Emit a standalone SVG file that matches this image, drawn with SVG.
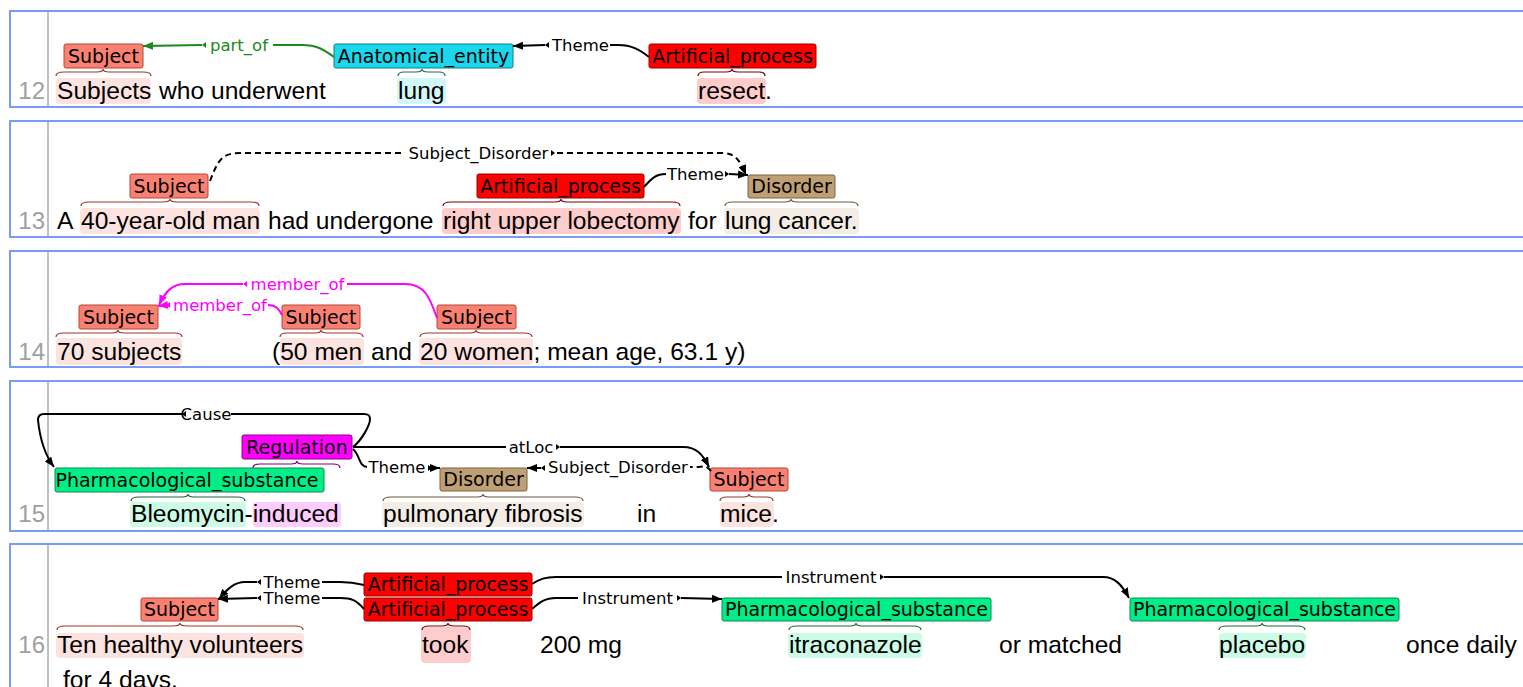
<svg xmlns="http://www.w3.org/2000/svg" width="1523" height="687" viewBox="0 0 1523 687">
<style>
.row{fill:none;stroke:#7b9cf5;stroke-width:2}
.gut{stroke:#c0c0c0;stroke-width:2}
.num{font-family:"Liberation Sans",Arial,sans-serif;font-size:24px;fill:#a0a0a0;text-anchor:end}
.w{font-family:"Liberation Sans",Arial,sans-serif;font-size:24.6px;fill:#000}
.lb{font-family:"DejaVu Sans",sans-serif;font-size:19px;fill:#000;text-anchor:middle}
.al{font-family:"DejaVu Sans",sans-serif;font-size:16.5px;text-anchor:middle}
.br{fill:none;stroke-width:1.2}
.arc{fill:none;stroke-width:2}
.dash{stroke-dasharray:6,4}
.k{stroke:#000}
.g{stroke:#1a8a1a}
.m{stroke:#ff00ff}
.subj{fill:#fa8072;stroke:#b0483c}
.ap{fill:#ff0000;stroke:#9a0000}
.ana{fill:#1ad7ec;stroke:#0d7f8c}
.dis{fill:#bfa074;stroke:#7a6240}
.reg{fill:#ff00ff;stroke:#8c008c}
.ph{fill:#00ee88;stroke:#11894f}
.hsubj{fill:#fde3e0}
.hap{fill:#ffcccc}
.hana{fill:#d1f7fa}
.hdis{fill:#f3ede6}
.hph{fill:#ccfbe6}
.hreg{fill:#ffccff}
</style>
<defs>
<marker id="ak" viewBox="0 0 10 8" refX="10" refY="4" markerWidth="10" markerHeight="8" markerUnits="userSpaceOnUse" orient="auto"><path d="M0,0 L10,4 L0,8 z" fill="#000"/></marker>
<marker id="ag" viewBox="0 0 10 8" refX="10" refY="4" markerWidth="10" markerHeight="8" markerUnits="userSpaceOnUse" orient="auto"><path d="M0,0 L10,4 L0,8 z" fill="#1a8a1a"/></marker>
<marker id="am" viewBox="0 0 10 8" refX="10" refY="4" markerWidth="10" markerHeight="8" markerUnits="userSpaceOnUse" orient="auto"><path d="M0,0 L10,4 L0,8 z" fill="#ff00ff"/></marker>
</defs>

<g id="rows">
<path class="row" d="M1523,11 L10,11 L10,107 L1523,107"/>
<path class="row" d="M1523,121 L10,121 L10,237 L1523,237"/>
<path class="row" d="M1523,251 L10,251 L10,367 L1523,367"/>
<path class="row" d="M1523,381 L10,381 L10,531 L1523,531"/>
<path class="row" d="M1523,544 L10,544 L10,690"/>
<line class="gut" x1="48" y1="12" x2="48" y2="106"/>
<line class="gut" x1="48" y1="122" x2="48" y2="236"/>
<line class="gut" x1="48" y1="252" x2="48" y2="366"/>
<line class="gut" x1="48" y1="382" x2="48" y2="530"/>
<line class="gut" x1="48" y1="545" x2="48" y2="690"/>
<text class="num" x="45" y="99">12</text>
<text class="num" x="45" y="229">13</text>
<text class="num" x="45" y="360">14</text>
<text class="num" x="45" y="522">15</text>
<text class="num" x="45" y="653">16</text>
</g>

<g id="highlights">
<rect class="hsubj" x="56" y="78" width="95" height="26" rx="4"/>
<rect class="hana" x="397" y="78" width="49" height="26" rx="4"/>
<rect class="hap" x="697" y="78" width="69" height="26" rx="4"/>
<rect class="hsubj" x="80" y="208" width="180" height="26" rx="4"/>
<rect class="hap" x="442" y="208" width="239" height="26" rx="4"/>
<rect class="hdis" x="724" y="208" width="135" height="26" rx="4"/>
<rect class="hsubj" x="56" y="338" width="126" height="27" rx="4"/>
<rect class="hsubj" x="280" y="338" width="84" height="27" rx="4"/>
<rect class="hsubj" x="419" y="338" width="114" height="27" rx="4"/>
<rect class="hph" x="130" y="502" width="116" height="25" rx="4"/>
<rect class="hreg" x="253" y="502" width="88" height="25" rx="4"/>
<rect class="hdis" x="382" y="502" width="202" height="25" rx="4"/>
<rect class="hsubj" x="720" y="502" width="54" height="25" rx="4"/>
<rect class="hsubj" x="56" y="633" width="248" height="25" rx="4"/>
<rect class="hap" x="421" y="627" width="50" height="36" rx="4"/>
<rect class="hph" x="788" y="633" width="134" height="25" rx="4"/>
<rect class="hph" x="1219" y="633" width="87" height="25" rx="4"/>
</g>

<g id="sentences">
<text class="w" x="57" y="99">Subjects</text>
<text class="w" x="159" y="99">who underwent</text>
<text class="w" x="398" y="99">lung</text>
<text class="w" x="698" y="99">resect.</text>
<text class="w" x="57" y="229">A</text>
<text class="w" x="81" y="229">40-year-old man</text>
<text class="w" x="268" y="229">had undergone</text>
<text class="w" x="443" y="229">right upper lobectomy</text>
<text class="w" x="688" y="229">for</text>
<text class="w" x="725" y="229">lung cancer.</text>
<text class="w" x="57" y="360">70 subjects</text>
<text class="w" x="272" y="360">(50 men</text>
<text class="w" x="371" y="360">and</text>
<text class="w" x="420" y="360">20 women; mean age, 63.1 y)</text>
<text class="w" x="131" y="522">Bleomycin-induced</text>
<text class="w" x="383" y="522">pulmonary fibrosis</text>
<text class="w" x="637" y="522">in</text>
<text class="w" x="720" y="522">mice.</text>
<text class="w" x="57" y="653">Ten healthy volunteers</text>
<text class="w" x="422" y="653">took</text>
<text class="w" x="540" y="653">200 mg</text>
<text class="w" x="789" y="653">itraconazole</text>
<text class="w" x="999" y="653">or matched</text>
<text class="w" x="1219" y="653">placebo</text>
<text class="w" x="1406" y="653">once daily</text>
<text class="w" x="63" y="688">for 4 days.</text>
</g>

<g id="braces">
<path class="br" stroke="#a0342a" d="M56,76 Q56,72 64,72 L97,72 Q103,72 103,69 Q103,72 109,72 L143,72 Q151,72 151,76"/>
<path class="br" stroke="#1a6a75" d="M398,76 Q398,72 404,72 L416,72 Q422,72 422,69 Q422,72 428,72 L439,72 Q445,72 445,76"/>
<path class="br" stroke="#800000" d="M698,76 Q698,72 704,72 L726,72 Q732,72 732,69 Q732,72 738,72 L759,72 Q765,72 765,76"/>
<path class="br" stroke="#a0342a" d="M81,206 Q81,202 89,202 L163,202 Q170,202 170,199 Q170,202 177,202 L251,202 Q259,202 259,206"/>
<path class="br" stroke="#800000" d="M443,206 Q443,202 451,202 L555,202 Q561,202 561,199 Q561,202 567,202 L672,202 Q680,202 680,206"/>
<path class="br" stroke="#6e5a3c" d="M725,206 Q725,202 733,202 L785,202 Q791,202 791,199 Q791,202 797,202 L850,202 Q858,202 858,206"/>
<path class="br" stroke="#a0342a" d="M56,337 Q56,333 64,333 L112,333 Q118,333 118,330 Q118,333 124,333 L174,333 Q182,333 182,337"/>
<path class="br" stroke="#a0342a" d="M280,337 Q280,333 287,333 L315,333 Q321,333 321,330 Q321,333 327,333 L356,333 Q363,333 363,337"/>
<path class="br" stroke="#a0342a" d="M420,337 Q420,333 428,333 L470,333 Q476,333 476,330 Q476,333 482,333 L524,333 Q532,333 532,337"/>
<path class="br" stroke="#800080" d="M253,468 Q253,464 260,464 L291,464 Q297,464 297,461 Q297,464 303,464 L333,464 Q340,464 340,468"/>
<path class="br" stroke="#1a6a45" d="M131,501 Q131,497 139,497 L182,497 Q188,497 188,494 Q188,497 194,497 L237,497 Q245,497 245,501"/>
<path class="br" stroke="#6e5a3c" d="M383,501 Q383,497 391,497 L477,497 Q483,497 483,494 Q483,497 489,497 L575,497 Q583,497 583,501"/>
<path class="br" stroke="#a0342a" d="M720,501 Q720,497 727,497 L743,497 Q749,497 749,494 Q749,497 755,497 L766,497 Q773,497 773,501"/>
<path class="br" stroke="#a0342a" d="M57,630 Q57,626 65,626 L173,626 Q180,626 180,623 Q180,626 187,626 L295,626 Q303,626 303,630"/>
<path class="br" stroke="#800000" d="M422,630 Q422,626 429,626 L442,626 Q448,626 448,623 Q448,626 454,626 L463,626 Q470,626 470,630"/>
<path class="br" stroke="#1a6a45" d="M789,630 Q789,626 797,626 L850,626 Q856,626 856,623 Q856,626 862,626 L913,626 Q921,626 921,630"/>
<path class="br" stroke="#1a6a45" d="M1219,630 Q1219,626 1227,626 L1256,626 Q1262,626 1262,623 Q1262,626 1268,626 L1297,626 Q1305,626 1305,630"/>
</g>

<g id="n12-subject"><rect class="subj" x="64" y="44" width="79" height="24" rx="2"/><text class="lb" x="103.5" y="63">Subject</text></g>
<g id="n12-anatomical"><rect class="ana" x="334" y="44" width="179" height="24" rx="2"/><text class="lb" x="423.5" y="63">Anatomical_entity</text></g>
<g id="n12-artproc"><rect class="ap" x="649" y="44" width="167" height="24" rx="2"/><text class="lb" x="732.5" y="63">Artificial_process</text></g>

<g id="n13-subject"><rect class="subj" x="130" y="174" width="78" height="24" rx="2"/><text class="lb" x="169" y="193">Subject</text></g>
<g id="n13-artproc"><rect class="ap" x="477" y="174" width="167" height="24" rx="2"/><text class="lb" x="560.5" y="193">Artificial_process</text></g>
<g id="n13-disorder"><rect class="dis" x="748" y="175" width="87" height="23" rx="2"/><text class="lb" x="791.5" y="193">Disorder</text></g>

<g id="n14-subject1"><rect class="subj" x="79" y="305" width="79" height="24" rx="2"/><text class="lb" x="118.5" y="324">Subject</text></g>
<g id="n14-subject2"><rect class="subj" x="282" y="305" width="78" height="24" rx="2"/><text class="lb" x="321" y="324">Subject</text></g>
<g id="n14-subject3"><rect class="subj" x="437" y="305" width="79" height="24" rx="2"/><text class="lb" x="476.5" y="324">Subject</text></g>

<g id="n15-regulation"><rect class="reg" x="242" y="435" width="110" height="24" rx="2"/><text class="lb" x="297" y="454">Regulation</text></g>
<g id="n15-pharma"><rect class="ph" x="55" y="468" width="269" height="24" rx="2"/><text class="lb" x="187" y="487">Pharmacological_substance</text></g>
<g id="n15-disorder"><rect class="dis" x="440" y="468" width="87" height="23" rx="2"/><text class="lb" x="483.5" y="486">Disorder</text></g>
<g id="n15-subject"><rect class="subj" x="710" y="468" width="78" height="23" rx="2"/><text class="lb" x="749" y="486">Subject</text></g>

<g id="n16-subject"><rect class="subj" x="141" y="598" width="77" height="23" rx="2"/><text class="lb" x="179.5" y="616">Subject</text></g>
<g id="n16-artproc1"><rect class="ap" x="364" y="573" width="168" height="23" rx="2"/><text class="lb" x="448" y="591">Artificial_process</text></g>
<g id="n16-artproc2"><rect class="ap" x="364" y="598" width="168" height="23" rx="2"/><text class="lb" x="448" y="616">Artificial_process</text></g>
<g id="n16-pharma1"><rect class="ph" x="722" y="598" width="269" height="23" rx="2"/><text class="lb" x="856.5" y="616">Pharmacological_substance</text></g>
<g id="n16-pharma2"><rect class="ph" x="1130" y="598" width="269" height="23" rx="2"/><text class="lb" x="1264.5" y="616">Pharmacological_substance</text></g>

<g id="connectors">
<!-- row 12 -->
<path class="arc g" d="M202,45 L143,46" marker-end="url(#ag)"/>
<polygon points="202,45 206,42 206,48" fill="#1a8a1a"/>
<text class="al" x="239" y="50.5" fill="#1a8a1a">part_of</text>
<path class="arc g" d="M273,45 L302,45 C318,45 324,50 334,57"/>
<path class="arc k" d="M545,45 L513,46" marker-end="url(#ak)"/>
<polygon points="545,45 549,42 549,48" fill="#000"/>
<text class="al" x="580.5" y="50.5" fill="#000">Theme</text>
<path class="arc k" d="M610,45 L618,45 C632,45 640,50 649,57"/>
<!-- row 13 -->
<path class="arc k dash" d="M210,181 C218,160 222,153 240,153 L405,153"/>
<text class="al" x="478.5" y="158.5" fill="#000">Subject_Disorder</text>
<polygon points="555,153 551,150 551,156" fill="#000"/>
<path class="arc k dash" d="M557,153 L722,153 C735,153 740,160 746,175" marker-end="url(#ak)"/>
<path class="arc k" d="M644,187 C652,178 656,174 666,174"/>
<text class="al" x="695.5" y="179.5" fill="#000">Theme</text>
<polygon points="729,174 725,171 725,177" fill="#000"/>
<path class="arc k" d="M729,174 L748,175" marker-end="url(#ak)"/>
<!-- row 14 -->
<path class="arc m" d="M437,318 C430,298 425,284 405,284 L347,284"/>
<text class="al" x="297.5" y="289.5" fill="#ff00ff">member_of</text>
<polygon points="243,284 247,281 247,287" fill="#ff00ff"/>
<path class="arc m" d="M243,284 L185,284 C172,284 165,292 159,305" marker-end="url(#am)"/>
<path class="arc m" d="M268,305 C276,305 279,309 282,315"/>
<text class="al" x="220" y="310.5" fill="#ff00ff">member_of</text>
<polygon points="166,305 170,302 170,308" fill="#ff00ff"/>
<path class="arc m" d="M167,305 L158,306" marker-end="url(#am)"/>
<!-- row 15 -->
<path class="arc k" d="M353,447 C362,440 370,425 370,419 C370,415 368,414 364,414 L231,414"/>
<text class="al" x="206" y="419.5" fill="#000">Cause</text>
<polygon points="182,414 186,411 186,417" fill="#000"/>
<path class="arc k" d="M182,414 L44,414 C39,414 38,417 38,420 C40,440 45,455 54,467" marker-end="url(#ak)"/>
<path class="arc k" d="M353,447 L506,447"/>
<text class="al" x="531" y="452.5" fill="#000">atLoc</text>
<polygon points="560,447 556,444 556,450" fill="#000"/>
<path class="arc k" d="M560,447 L683,447 C697,447 703,455 709,467" marker-end="url(#ak)"/>
<path class="arc k" d="M353,449 C360,455 359,467 367,467"/>
<text class="al" x="397" y="473" fill="#000">Theme</text>
<polygon points="432,468 428,465 428,471" fill="#000"/>
<path class="arc k" d="M431,468 L440,468" marker-end="url(#ak)"/>
<path class="arc k dash" d="M711,471 C706,464 702,467 697,467 L690,467"/>
<text class="al" x="618" y="472.5" fill="#000">Subject_Disorder</text>
<polygon points="541,468 545,465 545,471" fill="#000"/>
<path class="arc k" d="M541,468 L527,468" marker-end="url(#ak)"/>
<!-- row 16 -->
<path class="arc k" d="M364,585 C356,583 352,582 340,582 L322,582"/>
<text class="al" x="292" y="587.5" fill="#000">Theme</text>
<polygon points="257,582 261,579 261,585" fill="#000"/>
<path class="arc k" d="M257,582 L245,582 C235,582 228,588 219,599" marker-end="url(#ak)"/>
<path class="arc k" d="M364,609 C356,600 352,598 340,598 L322,598"/>
<text class="al" x="292" y="603.5" fill="#000">Theme</text>
<polygon points="257,598 261,595 261,601" fill="#000"/>
<path class="arc k" d="M257,598 L218,599" marker-end="url(#ak)"/>
<path class="arc k" d="M532,584 C540,579 545,577 556,577 L782,577"/>
<text class="al" x="831" y="582.5" fill="#000">Instrument</text>
<polygon points="884,577 880,574 880,580" fill="#000"/>
<path class="arc k" d="M884,577 L1103,577 C1115,577 1122,585 1129,598" marker-end="url(#ak)"/>
<path class="arc k" d="M532,609 C540,602 545,598 556,598 L578,598"/>
<text class="al" x="627.5" y="603.5" fill="#000">Instrument</text>
<polygon points="681,598 677,595 677,601" fill="#000"/>
<path class="arc k" d="M681,598 L722,599" marker-end="url(#ak)"/>
</g>
</svg>
